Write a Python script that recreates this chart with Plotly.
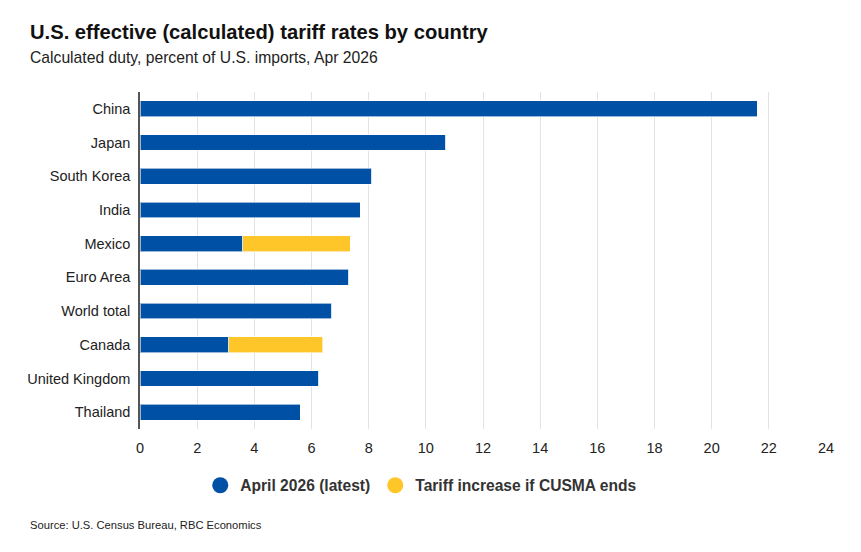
import plotly.graph_objects as go

countries = ["China", "Japan", "South Korea", "India", "Mexico", "Euro Area",
             "World total", "Canada", "United Kingdom", "Thailand"]
april_2026 = [21.6, 10.7, 8.1, 7.7, 3.6, 7.3, 6.7, 3.1, 6.25, 5.6]
cusma_increase = [0, 0, 0, 0, 3.75, 0, 0, 3.3, 0, 0]
x_ticks = [0, 2, 4, 6, 8, 10, 12, 14, 16, 18, 20, 22, 24]

BLUE = "#0050A5"
YELLOW = "#FFC629"
FONT = "Liberation Sans, Arial, sans-serif"

fig = go.Figure()
fig.add_trace(go.Bar(
    y=countries, x=april_2026, orientation="h", name="April 2026 (latest)",
    marker=dict(color=BLUE, line=dict(color="rgba(255,255,255,0.6)", width=1)),
    showlegend=False, hoverinfo="x+y"))
fig.add_trace(go.Bar(
    y=countries, x=cusma_increase, orientation="h", name="Tariff increase if CUSMA ends",
    marker=dict(color=YELLOW, line=dict(color="rgba(255,255,255,0.6)", width=1)),
    showlegend=False, hoverinfo="x+y"))
# legend entries with circle markers
for nm, col in [("April 2026 (latest)", BLUE), ("Tariff increase if CUSMA ends", YELLOW)]:
    fig.add_trace(go.Scatter(x=[None], y=[None], mode="markers", name="<b>" + nm + "</b>",
                             marker=dict(color=col, size=16, symbol="circle")))

fig.update_layout(
    width=861, height=552,
    barmode="stack", bargap=0.53,
    plot_bgcolor="white", paper_bgcolor="white",
    margin=dict(l=132, r=43, t=84, b=131),
    font=dict(family=FONT, color="#222222", size=14),
    showlegend=True,
    legend=dict(orientation="h", x=0.41, xanchor="center", y=-0.168, yanchor="middle",
                font=dict(size=15.6, color="#333333", family=FONT), itemwidth=30,
                traceorder="normal"),
    xaxis=dict(range=[0, 24], tickvals=x_ticks, showgrid=True, gridcolor="#E3E3E3",
               gridwidth=1, zeroline=False, showline=False, ticks="",
               ticklabelstandoff=8,
               tickfont=dict(size=14.5, color="#222222")),
    yaxis=dict(categoryorder="array", categoryarray=countries[::-1],
               showline=True, linecolor="#555555", linewidth=1.5, ticks="",
               showgrid=False, ticklabelstandoff=5,
               tickfont=dict(size=14.5, color="#222222")),
    annotations=[
        dict(text="<b>U.S. effective (calculated) tariff rates by country</b>",
             xref="paper", yref="paper", x=-112/686, y=1 + 60/337,
             xanchor="left", yanchor="middle", showarrow=False,
             font=dict(size=20.2, color="#111111", family=FONT)),
        dict(text="Calculated duty, percent of U.S. imports, Apr 2026",
             xref="paper", yref="paper", x=-112/686, y=1 + 35/337,
             xanchor="left", yanchor="middle", showarrow=False,
             font=dict(size=15.7, color="#222222", family=FONT)),
        dict(text="Source: U.S. Census Bureau, RBC Economics",
             xref="paper", yref="paper", x=-112/686, y=-96/337,
             xanchor="left", yanchor="middle", showarrow=False,
             font=dict(size=11.2, color="#222222", family=FONT)),
    ],
)

fig.write_html("out.html")
